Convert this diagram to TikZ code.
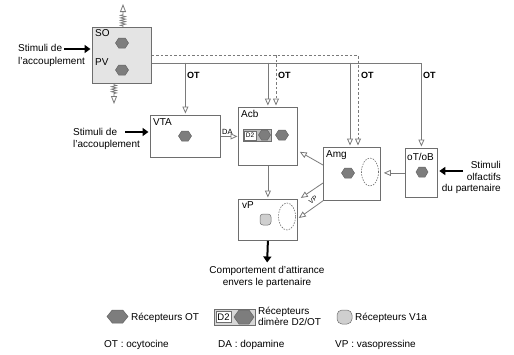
\documentclass[tikz,border=0pt]{standalone}
\usepackage{fontspec}
\setmainfont{Liberation Sans}
\usetikzlibrary{arrows.meta,calc,decorations.pathmorphing}
\definecolor{ln}{HTML}{7A7A7A}
\definecolor{bx}{HTML}{6E6E6E}
\definecolor{hexf}{HTML}{7D7D7D}
\definecolor{sofill}{HTML}{E4E4E4}
\definecolor{vfill}{HTML}{CFCFCF}
\definecolor{dfill}{HTML}{BDBDBD}
\newcommand\hexg[4]{\draw[hexst] ({#1-#3/2},#2) -- ({#1-#3/4},{#2-#4/2}) -- ({#1+#3/4},{#2-#4/2}) -- ({#1+#3/2},#2) -- ({#1+#3/4},{#2+#4/2}) -- ({#1-#3/4},{#2+#4/2}) -- cycle;}
\begin{document}
\begin{tikzpicture}[x=1pt,y=-1pt,font=\fontsize{10}{12}\selectfont,
  box/.style={draw=bx, line width=0.8pt, fill=white, inner sep=0, anchor=north west},
  conn/.style={draw=ln, line width=0.8pt},
  oa/.style={-{Triangle[open,length=7pt,width=6pt]}},
  dsh/.style={conn, dash pattern=on 2.5pt off 2pt},
  blk/.style={draw=black, line width=2pt, -{Triangle[length=6pt,width=8pt]}},
  lab/.style={inner sep=0, anchor=base west},
  hexst/.style={fill=hexf, draw=hexf!80!black, line width=0.5pt},
  otl/.style={lab, font=\bfseries\fontsize{9}{10}\selectfont},
  spring/.style={conn, -{Triangle[open,length=8pt,width=6pt]}, decorate, decoration={zigzag, segment length=2.5pt, amplitude=2.5pt, pre length=1pt, post length=10pt}}]
\useasboundingbox (0,0) rectangle (514,354);
% boxes
\node[box, fill=sofill, minimum width=59pt, minimum height=56pt] (SO) at (92,27) {};
\node[box, minimum width=70pt, minimum height=42pt] (VTA) at (150,115) {};
\node[box, minimum width=59pt, minimum height=58pt] (Acb) at (238,107) {};
\node[box, minimum width=57pt, minimum height=53pt] (Amg) at (323,147) {};
\node[box, minimum width=32pt, minimum height=49pt] (oTB) at (405,148) {};
\node[box, minimum width=59pt, minimum height=41pt] (vP) at (238,199) {};
% box labels
\node[lab] (lSO) at (95,36) {SO};
\node[lab] (lPV) at (95,65) {PV};
\node[lab] (lVTA) at (153,125) {VTA};
\node[lab] (lAcb) at (241,117) {Acb};
\node[lab] (lAmg) at (326,157) {Amg};
\node[lab] (loT) at (407,160) {oT/oB};
\node[lab] (lvP) at (242,208) {vP};
% receptors in boxes
\hexg{122}{43}{13}{10}
\hexg{122}{70}{13}{10}
\hexg{185}{136}{13}{10}
\draw[fill=dfill, draw=bx, line width=0.5pt] (243,129) rectangle (271,141);
\node[draw=bx, fill=white, line width=0.4pt, inner sep=0, minimum width=12pt, minimum height=9pt, font=\fontsize{6.5}{7}\selectfont] (d2a) at (250,135.5) {D2};
\hexg{264.5}{135}{12}{10}
\hexg{282}{135}{13}{10}
\hexg{348}{173}{13}{10}
\draw[bx, line width=0.6pt, dash pattern=on 1.5pt off 1.2pt] (370,172) ellipse [x radius=8.5pt, y radius=14pt];
\hexg{422}{172}{12}{10}
\node[draw=bx, fill=vfill, line width=0.5pt, rounded corners=3pt, inner sep=0, minimum width=11pt, minimum height=11pt] (v1) at (265.5,219.5) {};
\draw[bx, line width=0.6pt, dash pattern=on 1.5pt off 1.2pt] (287,216.5) ellipse [x radius=8.5pt, y radius=13.5pt];
% OT buses
\coordinate (busS) at (0,62.5);
\coordinate (xm1) at (350,0);
\coordinate (xa2) at (276,0);
\coordinate (xm2) at (358,0);
\draw[conn,oa,shorten >=1.5pt] ($(SO.east)+(0,7.5)$) -| (oTB.north);
\draw[conn,oa,shorten >=1.5pt] (VTA.north |- busS) -- (VTA.north);
\draw[conn,oa,shorten >=1.5pt] (Acb.north |- busS) -- (Acb.north);
\draw[conn,oa,shorten >=1.5pt] (xm1 |- busS) -- (xm1 |- Amg.north);
\draw[dsh,oa,shorten >=1.5pt] (SO.east) -| (xm2 |- Amg.north);
\draw[dsh,oa,shorten >=1.5pt] (xa2 |- SO.east) -- (xa2 |- Acb.north);
\node[otl] (ot1) at (187,78) {OT};
\node[otl] (ot2) at (278,78) {OT};
\node[otl] (ot3) at (361,78) {OT};
\node[otl] (ot4) at (423,78) {OT};
% springs
\coordinate (spU) at (123,4);
\coordinate (spD) at (114,104);
\draw[spring] (SO.north -| spU) -- (spU);
\draw[spring] (SO.south -| spD) -- (spD);
% stimuli
\node[align=left, anchor=north west, inner sep=0, font=\fontsize{10}{12.5}\selectfont] (tx1) at (18,44.5) {Stimuli de\\l'accouplement};
\node[align=left, anchor=north west, inner sep=0, font=\fontsize{10}{11.5}\selectfont] (tx2) at (73,128.5) {Stimuli de\\l'accouplement};
\node[align=right, anchor=north east, inner sep=0, font=\fontsize{10}{11.5}\selectfont] (tx3) at (501,161.5) {Stimuli\\olfactifs\\du partenaire};
\node[align=center, anchor=north, inner sep=0, font=\fontsize{10}{12}\selectfont] (comp) at (267,266.5) {Comportement d'attirance\\envers le partenaire};
\coordinate (st1) at (64,49);
\coordinate (st2) at (125,132);
\coordinate (st3) at (463,171);
\draw[blk,shorten >=1.5pt] (st1) -- (SO.west |- st1);
\draw[blk,shorten >=1.5pt] (st2) -- (VTA.west |- st2);
\draw[blk,shorten >=1.5pt] (st3) -- (oTB.east |- st3);
\draw[blk,shorten >=4pt] (vP.south) -- (comp.north);
% internal connectors
\draw[conn,oa,shorten >=0.5pt] (VTA.east) -- (Acb.west |- VTA.east);
\node[lab, font=\fontsize{7.5}{8}\selectfont] (lDA) at (222,134) {DA};
\draw[conn,oa,shorten >=3pt] (oTB.west) -- (Amg.east |- oTB.west);
\draw[conn,oa] ($(Amg.north west)+(0,18)$) -- ($(Acb.south east)+(2,-14)$);
\draw[conn,oa,shorten >=1.5pt] (Acb.south) -- (vP.north);
\draw[conn,oa] ($(Amg.north west)+(0,36)$) -- ($(vP.north east)+(3,-1)$);
\draw[conn,oa] (Amg.south west) -- ($(vP.north east)+(1,19)$);
\node[inner sep=0, rotate=36, font=\fontsize{6.5}{7}\selectfont] (lVP) at (313,200) {VP};
% legend
\hexg{117.5}{316.5}{21}{13}
\node[lab] (lg1) at (131,320) {Récepteurs OT};
\draw[fill=dfill!60!white, draw=bx, line width=0.5pt] (214,309) rectangle (255,325);
\node[draw=bx, fill=white, line width=0.4pt, inner sep=0, minimum width=15pt, minimum height=11pt, font=\fontsize{9.5}{10}\selectfont] (d2l) at (223.5,317) {D2};
\hexg{244}{317}{20}{14}
\node[align=left, anchor=north west, inner sep=0, font=\fontsize{10}{11}\selectfont] (lg2) at (258,306.5) {Récepteurs\\dimère D2/OT};
\node[draw=bx, fill=vfill, line width=0.5pt, rounded corners=5pt, inner sep=0, minimum width=15pt, minimum height=14pt] (lv1a) at (344.5,317) {};
\node[lab] (lg3) at (355,320) {Récepteurs V1a};
\node[lab] (lg4) at (104,347) {OT : ocytocine};
\node[lab] (lg5) at (218,347) {DA : dopamine};
\node[lab] (lg6) at (335,347) {VP : vasopressine};
\end{tikzpicture}
\end{document}
